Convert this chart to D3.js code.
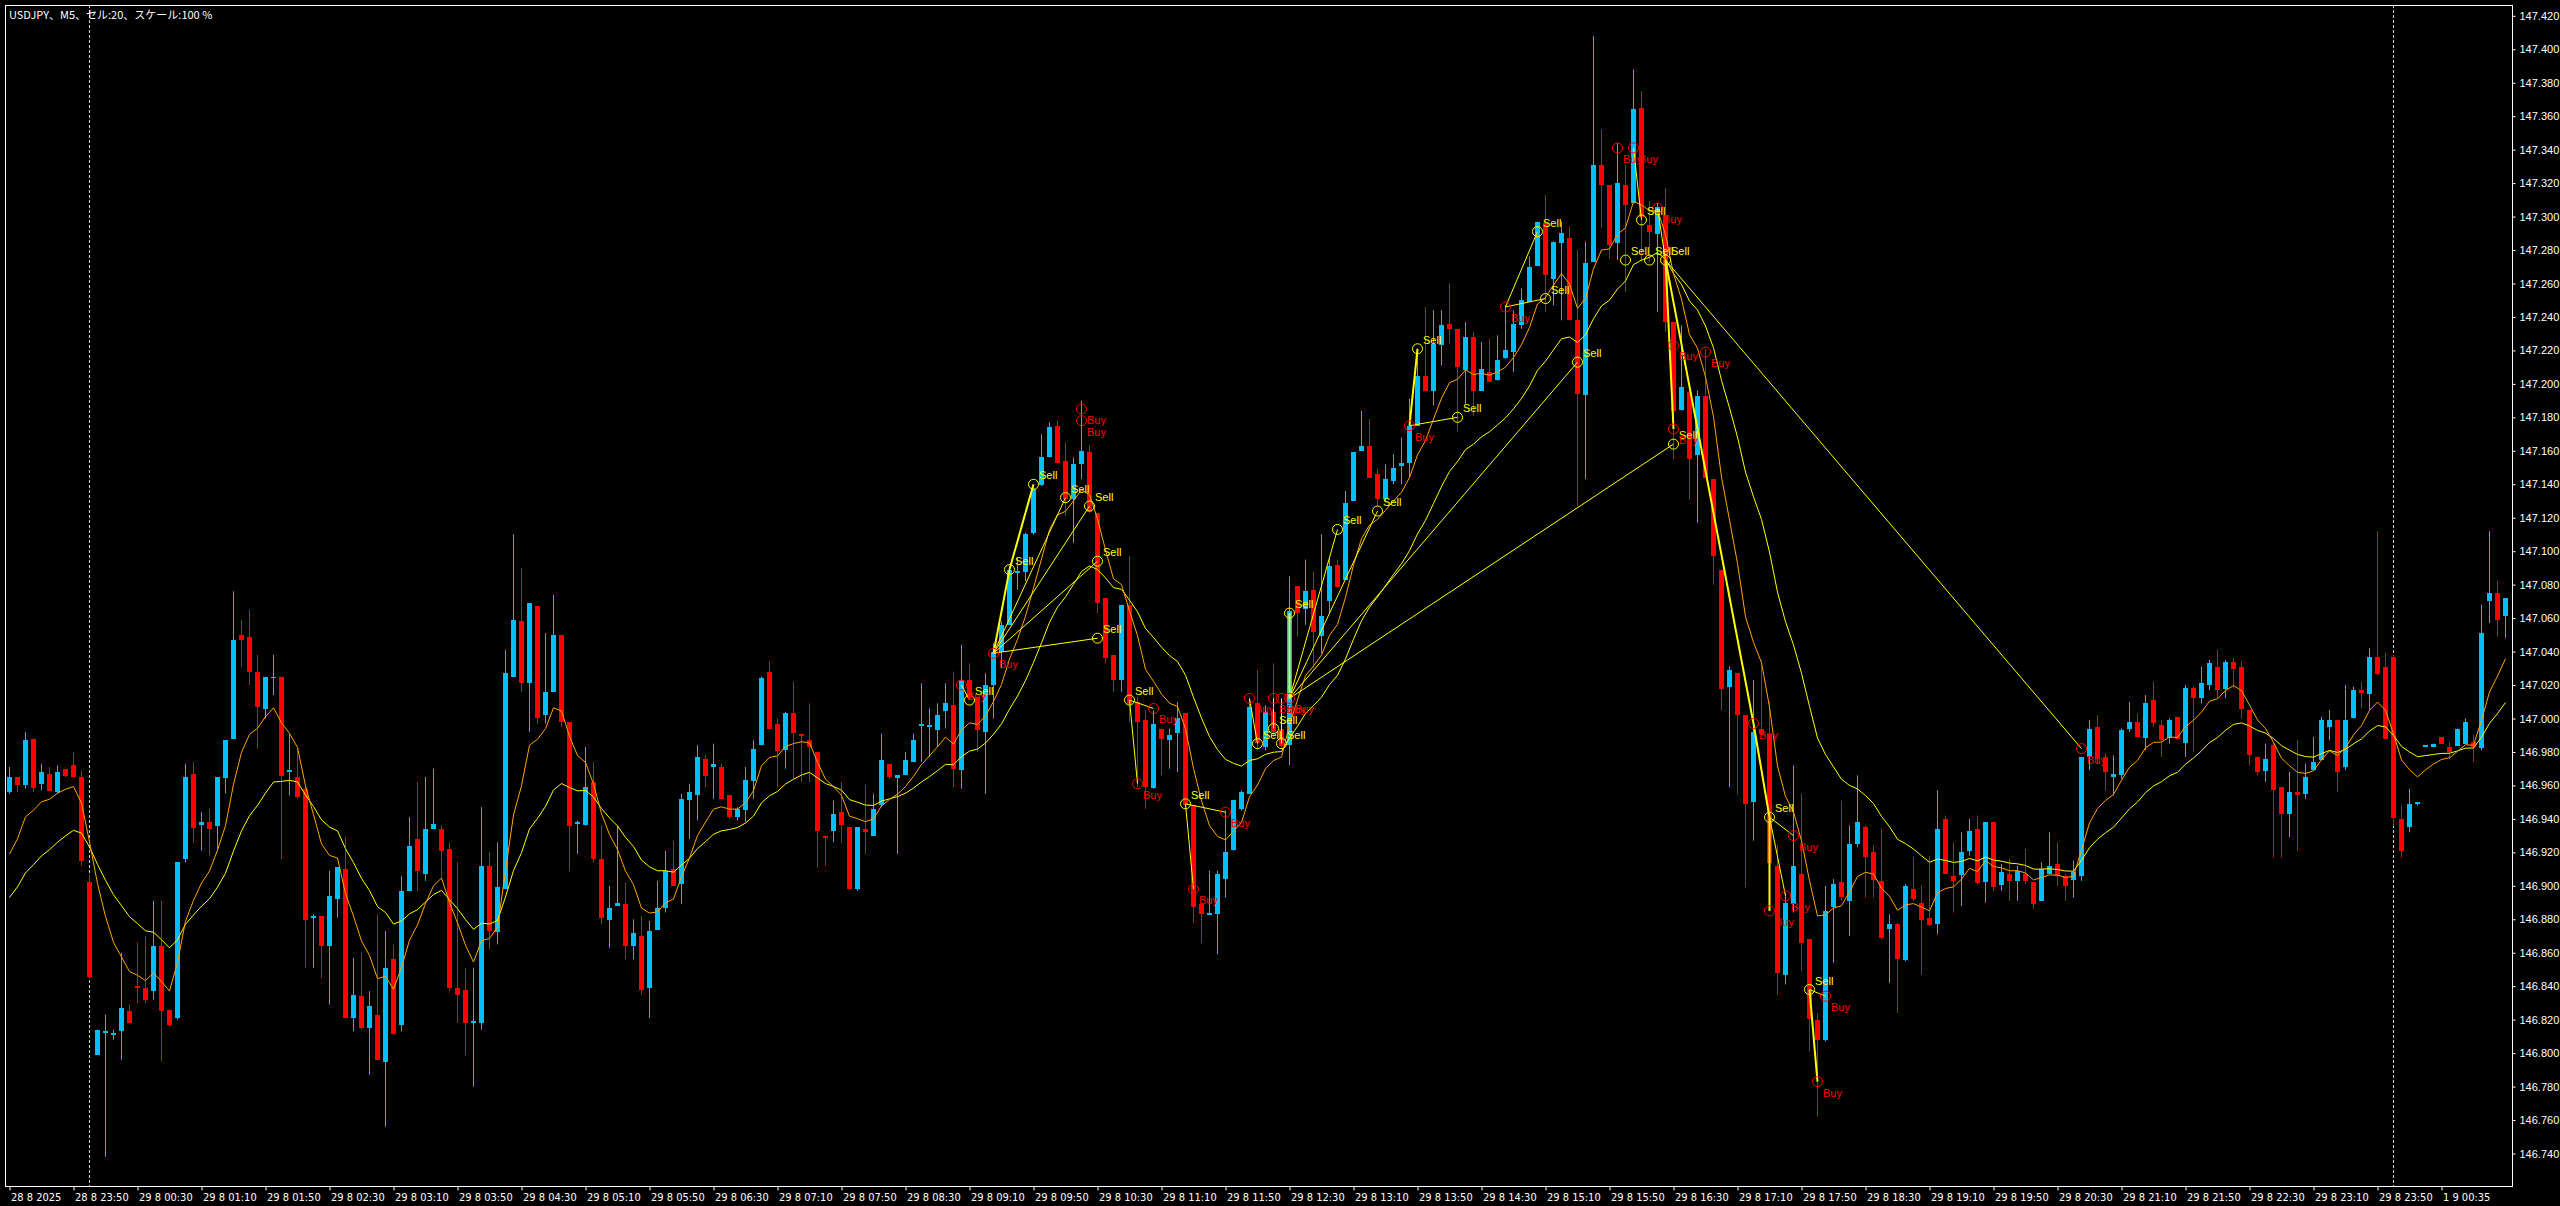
<!DOCTYPE html>
<html><head><meta charset="utf-8">
<script src="https://cdn.jsdelivr.net/npm/d3@7"></script>
<style>html,body{margin:0;padding:0;background:#000;overflow:hidden}</style>
</head><body>
<svg id="c" width="2560" height="1206"></svg>
<script>
// ---------- DATA ----------
const openP = [
146.956,146.965,146.960,146.988,146.961,146.967,146.956,146.970,146.972,146.965,
146.902,146.799,146.812,146.811,146.813,146.825,146.840,146.839,146.837,146.864,
146.826,146.821,146.916,146.967,146.936,146.938,146.936,146.964,146.988,147.050,
147.049,147.028,147.006,147.025,147.025,146.968,146.965,146.958,146.881,146.882,
146.864,146.892,146.910,146.821,146.834,146.815,146.823,146.795,146.856,146.817,
146.897,146.928,146.907,146.934,146.934,146.922,146.839,146.838,146.818,146.818,
146.912,146.872,146.898,147.025,147.058,147.021,147.067,147.002,147.016,147.050,
146.998,146.937,146.936,146.962,146.916,146.880,146.888,146.889,146.864,146.870,
146.839,146.874,146.887,146.910,146.901,146.951,146.954,146.976,146.971,146.971,
146.954,146.941,146.945,146.963,146.984,147.028,146.997,146.981,147.003,146.991,
146.987,146.980,146.930,146.933,146.944,146.935,146.898,146.934,146.930,146.948,
146.973,146.964,146.966,146.974,146.996,146.995,146.993,147.004,147.008,146.969,
147.023,147.013,146.992,147.020,147.040,147.056,147.087,147.087,147.111,147.139,
147.156,147.175,147.154,147.131,147.152,147.159,147.123,147.072,147.038,147.023,
147.068,147.010,146.999,146.959,146.994,146.987,146.991,147.003,146.948,146.889,
146.883,146.883,146.904,146.921,146.946,146.955,147.009,146.983,147.004,146.994,
146.984,147.079,147.065,147.077,147.049,147.070,147.092,147.083,147.130,147.160,
147.163,147.146,147.131,147.142,147.151,147.153,147.175,147.205,147.196,147.223,
147.236,147.233,147.208,147.228,147.196,147.207,147.202,147.215,147.219,147.235,
147.249,147.271,147.296,147.263,147.284,147.287,147.238,147.193,147.273,147.331,
147.319,147.284,147.319,147.308,147.365,147.295,147.290,147.301,147.237,147.184,
147.195,147.158,147.193,147.143,147.089,147.019,147.027,147.002,146.950,146.994,
146.991,146.912,146.847,146.889,146.907,146.868,146.820,146.808,146.887,146.902,
146.891,146.925,146.935,146.920,146.903,146.874,146.877,146.856,146.898,146.890,
146.881,146.877,146.940,146.906,146.906,146.921,146.934,146.902,146.938,146.900,
146.907,146.903,146.907,146.902,146.891,146.907,146.913,146.906,146.903,146.906,
146.977,146.995,146.977,146.965,146.966,146.994,146.998,146.988,147.011,146.996,
146.988,147.001,146.985,147.018,147.012,147.020,147.031,147.018,147.034,147.031,
147.005,146.977,146.969,146.984,146.959,146.943,146.956,146.955,146.969,146.975,
146.995,146.999,146.971,147.000,147.017,147.015,147.037,147.031,147.037,146.940,
146.935,146.949,146.983,146.983,146.989,146.983,146.984,146.985,146.986,146.982,
147.070,147.075,147.061];
const highP = [
146.971,146.965,146.992,146.988,146.973,146.971,146.972,146.970,146.980,146.969,
146.907,146.814,146.823,146.814,146.860,146.829,146.866,146.870,146.891,146.891,
146.826,146.914,146.973,146.974,146.944,146.946,146.965,146.987,147.076,147.059,
147.065,147.038,147.025,147.038,147.025,146.991,146.982,146.959,146.883,146.882,
146.909,146.911,146.929,146.857,146.860,146.837,146.883,146.873,146.865,146.906,
146.941,146.962,146.965,146.970,146.936,146.926,146.914,146.851,146.851,146.947,
146.920,146.926,147.041,147.110,147.090,147.069,147.067,147.051,147.074,147.050,
146.998,146.939,146.983,146.974,146.936,146.900,146.936,146.902,146.880,146.882,
146.879,146.903,146.921,146.927,146.955,146.961,146.984,146.978,146.985,146.973,
146.954,146.947,146.971,146.987,147.025,147.034,147.000,147.004,147.022,146.991,
147.009,146.980,146.930,146.951,146.962,146.935,146.935,146.960,146.955,146.991,
146.973,146.966,146.980,146.991,147.021,147.006,147.009,147.021,147.028,147.044,
147.033,147.013,147.027,147.045,147.058,147.091,147.096,147.111,147.139,147.170,
147.177,147.178,147.165,147.156,147.190,147.163,147.123,147.072,147.038,147.068,
147.097,147.013,147.005,147.005,146.994,146.994,147.010,147.003,146.948,146.889,
146.909,146.909,146.945,146.951,146.957,147.012,147.029,147.008,147.033,146.994,
147.085,147.079,147.095,147.088,147.110,147.096,147.095,147.136,147.159,147.184,
147.179,147.149,147.152,147.158,147.168,147.191,147.220,147.246,147.244,147.244,
147.260,147.233,147.237,147.231,147.225,147.227,147.229,147.247,147.244,147.257,
147.276,147.297,147.313,147.285,147.297,147.294,147.280,147.285,147.408,147.352,
147.319,147.344,147.331,147.388,147.375,147.309,147.308,147.317,147.237,147.235,
147.195,147.196,147.221,147.143,147.089,147.031,147.027,147.002,147.023,147.035,
147.010,146.924,146.896,146.972,146.955,146.868,146.824,146.900,146.904,146.951,
146.936,146.966,146.936,146.924,146.934,146.883,146.878,146.901,146.917,146.900,
146.918,146.957,146.942,146.926,146.932,146.940,146.942,146.938,146.938,146.913,
146.916,146.912,146.922,146.902,146.914,146.932,146.926,146.907,146.915,146.977,
146.999,147.002,146.979,146.978,146.994,147.010,147.003,147.014,147.022,146.999,
147.000,147.001,147.020,147.019,147.031,147.035,147.041,147.035,147.036,147.034,
147.005,146.977,146.985,146.986,146.959,146.968,146.987,146.973,146.989,147.001,
147.005,146.999,147.020,147.019,147.022,147.042,147.112,147.039,147.038,146.948,
146.958,146.950,146.984,146.985,146.989,146.986,146.994,147.000,146.990,147.068,
147.112,147.082,147.072];
const lowP = [
146.955,146.956,146.958,146.956,146.957,146.957,146.955,146.965,146.965,146.912,
146.845,146.799,146.738,146.808,146.796,146.818,146.830,146.830,146.832,146.795,
146.816,146.820,146.914,146.926,146.921,146.918,146.922,146.955,146.988,147.031,
147.020,146.982,147.000,147.014,146.916,146.954,146.952,146.851,146.851,146.845,
146.829,146.881,146.821,146.813,146.814,146.787,146.796,146.756,146.811,146.813,
146.897,146.897,146.903,146.934,146.905,146.837,146.818,146.799,146.780,146.814,
146.862,146.865,146.898,147.025,147.016,146.992,146.997,146.997,147.016,146.995,
146.909,146.919,146.936,146.914,146.877,146.863,146.888,146.856,146.856,146.835,
146.821,146.874,146.884,146.900,146.889,146.928,146.939,146.959,146.952,146.952,
146.940,146.939,146.938,146.952,146.984,146.994,146.959,146.970,146.964,146.962,
146.962,146.911,146.912,146.926,146.926,146.898,146.897,146.919,146.930,146.947,
146.964,146.919,146.966,146.974,146.974,146.977,146.983,146.994,146.959,146.958,
147.011,146.980,146.955,147.000,147.030,147.056,147.077,147.082,147.110,147.139,
147.156,147.153,147.121,147.105,147.143,147.123,147.063,147.033,147.016,147.016,
146.998,146.959,146.946,146.958,146.966,146.970,146.968,146.947,146.878,146.866,
146.883,146.859,146.893,146.921,146.945,146.955,146.981,146.981,146.989,146.982,
146.972,147.049,147.056,147.030,147.039,147.063,147.079,147.083,147.130,147.160,
147.144,147.127,147.130,147.140,147.140,147.144,147.175,147.196,147.187,147.211,
147.224,147.172,147.188,147.181,147.196,147.201,147.202,147.215,147.207,147.233,
147.249,147.271,147.243,147.247,147.238,147.238,147.127,147.143,147.273,147.293,
147.275,147.274,147.255,147.308,147.273,147.273,147.243,147.231,147.155,147.184,
147.131,147.117,147.144,147.080,147.005,146.959,146.955,146.899,146.927,146.991,
146.914,146.835,146.841,146.884,146.849,146.801,146.762,146.807,146.854,146.891,
146.870,146.923,146.893,146.893,146.868,146.842,146.824,146.855,146.891,146.847,
146.876,146.871,146.907,146.884,146.888,146.918,146.901,146.890,146.897,146.897,
146.891,146.891,146.901,146.886,146.891,146.907,146.900,146.891,146.893,146.903,
146.969,146.973,146.957,146.954,146.964,146.992,146.989,146.981,146.995,146.977,
146.985,146.988,146.977,146.980,147.009,147.017,147.012,147.012,147.018,147.000,
146.972,146.966,146.962,146.917,146.917,146.929,146.921,146.952,146.969,146.975,
146.987,146.956,146.969,147.000,147.006,147.005,147.026,146.988,146.936,146.917,
146.932,146.948,146.983,146.983,146.985,146.976,146.984,146.985,146.974,146.981,
147.057,147.049,147.048];
const closeP = [
146.965,146.960,146.987,146.959,146.968,146.957,146.968,146.966,146.965,146.915,
146.845,146.814,146.813,146.812,146.827,146.818,146.839,146.832,146.864,146.825,
146.817,146.914,146.965,146.935,146.938,146.934,146.965,146.987,147.047,147.047,
147.028,147.007,147.025,147.025,146.966,146.969,146.953,146.880,146.882,146.864,
146.894,146.911,146.821,146.835,146.815,146.828,146.796,146.851,146.811,146.897,
146.924,146.909,146.934,146.937,146.921,146.839,146.835,146.818,146.819,146.912,
146.873,146.899,147.027,147.059,147.021,147.069,147.000,147.016,147.050,146.998,
146.936,146.938,146.959,146.916,146.881,146.887,146.890,146.864,146.872,146.838,
146.873,146.887,146.909,146.900,146.952,146.956,146.977,146.966,146.973,146.952,
146.941,146.946,146.963,146.982,147.024,146.994,146.981,147.003,146.991,146.990,
146.983,146.933,146.929,146.943,146.936,146.898,146.935,146.932,146.946,146.975,
146.965,146.966,146.975,146.987,146.997,146.996,147.002,147.009,146.970,147.023,
147.012,146.993,147.020,147.040,147.056,147.089,147.088,147.110,147.137,147.156,
147.174,147.153,147.131,147.152,147.160,147.123,147.069,147.036,147.023,147.068,
147.009,146.998,146.959,146.997,146.988,146.990,147.000,146.948,146.887,146.883,
146.884,146.907,146.920,146.951,146.956,147.007,146.985,147.004,146.992,146.984,
147.064,147.063,147.076,147.052,147.061,147.091,147.079,147.129,147.159,147.163,
147.144,147.131,147.143,147.150,147.153,147.175,147.205,147.196,147.224,147.235,
147.233,147.210,147.228,147.196,147.209,147.201,147.214,147.220,147.236,147.250,
147.270,147.297,147.265,147.285,147.290,147.238,147.194,147.272,147.331,147.319,
147.283,147.320,147.307,147.364,147.300,147.291,147.306,147.237,147.184,147.198,
147.155,147.193,147.144,147.097,147.018,147.029,147.002,146.949,146.992,146.991,
146.914,146.848,146.890,146.912,146.866,146.820,146.808,146.885,146.901,146.893,
146.925,146.938,146.917,146.903,146.869,146.877,146.856,146.900,146.892,146.880,
146.877,146.934,146.907,146.903,146.920,146.933,146.902,146.938,146.899,146.908,
146.903,146.909,146.903,146.889,146.910,146.912,146.906,146.900,146.908,146.977,
146.994,146.976,146.968,146.967,146.993,146.998,146.989,147.009,146.997,146.987,
146.999,146.988,147.018,147.012,147.021,147.033,147.017,147.034,147.030,147.006,
146.978,146.968,146.976,146.957,146.943,146.956,146.954,146.965,146.974,146.999,
146.999,146.968,146.999,147.017,147.015,147.037,147.027,146.988,146.941,146.921,
146.949,146.950,146.984,146.985,146.985,146.980,146.994,146.998,146.983,147.051,
147.075,147.059,147.072];

// moving averages (EMA 8 orange, EMA 20 yellow); first values
const maFastPeriod = 8, maSlowPeriod = 20;
const maFastStart = 146.919, maSlowStart = 146.893;

// period separators (first bar of a new day)
const separatorBars = [10, 298];

// time axis
const timeTickBars = [0,8,16,24,32,40,48,56,64,72,80,88,96,104,112,120,128,136,144,152,160,168,176,184,192,200,208,216,224,232,240,248,256,264,272,280,288,296,304];
const timeTickLabels = ["28 8 2025","28 8 23:50","29 8 00:30","29 8 01:10","29 8 01:50","29 8 02:30","29 8 03:10","29 8 03:50","29 8 04:30","29 8 05:10","29 8 05:50","29 8 06:30","29 8 07:10","29 8 07:50","29 8 08:30","29 8 09:10","29 8 09:50","29 8 10:30","29 8 11:10","29 8 11:50","29 8 12:30","29 8 13:10","29 8 13:50","29 8 14:30","29 8 15:10","29 8 15:50","29 8 16:30","29 8 17:10","29 8 17:50","29 8 18:30","29 8 19:10","29 8 19:50","29 8 20:30","29 8 21:10","29 8 21:50","29 8 22:30","29 8 23:10","29 8 23:50","1 9 00:35"];

// price axis
const priceTicks = [146.740,146.760,146.780,146.800,146.820,146.840,146.860,146.880,146.900,146.920,146.940,146.960,146.980,147.000,147.020,147.040,147.060,147.080,147.100,147.120,147.140,147.160,147.180,147.200,147.220,147.240,147.260,147.280,147.300,147.320,147.340,147.360,147.380,147.400,147.420];
const priceTickLabels = ["146.740","146.760","146.780","146.800","146.820","146.840","146.860","146.880","146.900","146.920","146.940","146.960","146.980","147.000","147.020","147.040","147.060","147.080","147.100","147.120","147.140","147.160","147.180","147.200","147.220","147.240","147.260","147.280","147.300","147.320","147.340","147.360","147.380","147.400","147.420"];

// signal markers [bar, price]
const sellSignals = [[120,147.011],[125,147.089],[128,147.140],[132,147.132],[135,147.127],[136,147.094],[136,147.048],[140,147.011],[147,146.949],[156,146.985],[158,146.994],[159,146.985],[160,147.063],[166,147.113],[171,147.124],[176,147.221],[181,147.180],[191,147.291],[192,147.251],[196,147.213],[202,147.274],[204,147.298],[205,147.274],[207,147.274],[208,147.164],[220,146.941],[225,146.838]];
const buySignals = [[119,147.020],[123,147.039],[134,147.185],[134,147.178],[141,146.961],[143,147.006],[148,146.898],[152,146.944],[155,147.012],[158,147.012],[159,147.012],[160,147.012],[175,147.175],[187,147.246],[201,147.341],[203,147.341],[206,147.305],[208,147.223],[208,147.173],[212,147.219],[218,146.997],[220,146.885],[222,146.894],[223,146.930],[226,146.783],[227,146.834],[259,146.982]];
// signal link lines [bar1, price1, bar2, price2, bold]
const signalLinks = [
[119,147.020,120,147.011,0],
[123,147.039,125,147.089,1],[125,147.089,128,147.140,1],[123,147.039,132,147.132,0],[123,147.039,135,147.127,0],[123,147.039,136,147.094,0],[123,147.039,136,147.048,0],
[140,147.011,141,146.961,0],[140,147.011,143,147.006,0],
[147,146.949,148,146.898,0],[147,146.949,152,146.944,0],
[155,147.012,156,146.985,0],[158,147.012,158,146.994,0],[159,147.012,159,146.985,0],
[160,147.012,160,147.063,1],[160,147.012,166,147.113,0],[160,147.012,171,147.124,0],[160,147.012,196,147.213,0],[160,147.012,208,147.164,0],
[175,147.175,176,147.221,1],[175,147.175,181,147.180,0],
[187,147.246,191,147.291,0],[187,147.246,192,147.251,0],
[203,147.341,204,147.298,0],[206,147.305,207,147.274,0],
[207,147.274,208,147.173,1],[207,147.274,218,146.997,1],[207,147.274,259,146.982,0],
[218,146.997,220,146.941,1],[220,146.941,220,146.885,1],[220,146.941,222,146.894,0],[220,146.941,223,146.930,0],
[225,146.838,226,146.783,1],[225,146.838,227,146.834,0]];

const titleText = "USDJPY、M5、セル:20、スケール:100 %";

// ---------- DRAW ----------
const W = 2560, H = 1206;
const plotL = 5, plotR = 2512, plotT = 5, plotB = 1186;
const svg = d3.select("#c");
svg.append("rect").attr("width", W).attr("height", H).attr("fill", "#000");

const n = closeP.length;
const x = d3.scaleLinear().domain([0, 1]).range([9, 17]);
const y = d3.scaleLinear().domain([146.740, 147.420]).range([1153.5, 15.8]);
const UP = "#00BFFF", DN = "#FF0000";

const g = svg.append("g");

// separators
g.selectAll("line.sep").data(separatorBars).join("line")
  .attr("x1", d => Math.round(x(d)) + 0.5).attr("x2", d => Math.round(x(d)) + 0.5)
  .attr("y1", plotT).attr("y2", plotB)
  .attr("stroke", "#d0d0d0").attr("stroke-width", 1).attr("stroke-dasharray", "3,2");

// candles
const idx = d3.range(n);
const colorOf = i => closeP[i] >= openP[i] ? UP : DN;
g.selectAll("line.wick").data(idx).join("line")
  .attr("x1", i => x(i) + 0.5).attr("x2", i => x(i) + 0.5)
  .attr("y1", i => y(highP[i])).attr("y2", i => y(lowP[i]))
  .attr("stroke", colorOf).attr("stroke-width", 1);
g.selectAll("rect.body").data(idx).join("rect")
  .attr("x", i => x(i) - 2).attr("width", 5)
  .attr("y", i => Math.round(y(Math.max(openP[i], closeP[i]))))
  .attr("height", i => Math.max(1, Math.round(Math.abs(y(openP[i]) - y(closeP[i])))))
  .attr("fill", colorOf);

// EMAs
function ema(period, start) {
  const a = 2 / (period + 1); const out = [start];
  for (let i = 1; i < n; i++) out.push(out[i - 1] + a * (closeP[i] - out[i - 1]));
  return out;
}
const maFast = ema(maFastPeriod, maFastStart);
const maSlow = ema(maSlowPeriod, maSlowStart);
const lineGen = d3.line().x((d, i) => x(i) + 0.5).y(d => y(d));
g.append("path").attr("d", lineGen(maSlow)).attr("fill", "none").attr("stroke", "#FFFF00").attr("stroke-width", 1);
g.append("path").attr("d", lineGen(maFast)).attr("fill", "none").attr("stroke", "#FFA500").attr("stroke-width", 1);

// signal links
g.selectAll("line.link").data(signalLinks).join("line")
  .attr("x1", d => x(d[0]) + 0.5).attr("y1", d => y(d[1]))
  .attr("x2", d => x(d[2]) + 0.5).attr("y2", d => y(d[3]))
  .attr("stroke", "#FFFF00").attr("stroke-width", d => d[4] ? 2 : 1);

// signal circles + labels
const lblFont = "'Liberation Sans', Arial, sans-serif";
g.selectAll("circle.sell").data(sellSignals).join("circle")
  .attr("cx", d => x(d[0]) + 0.5).attr("cy", d => y(d[1])).attr("r", 5)
  .attr("fill", "none").attr("stroke", "#FFFF00").attr("stroke-width", 1);
g.selectAll("circle.buy").data(buySignals).join("circle")
  .attr("cx", d => x(d[0]) + 0.5).attr("cy", d => y(d[1])).attr("r", 5)
  .attr("fill", "none").attr("stroke", "#FF0000").attr("stroke-width", 1);
g.selectAll("text.sell").data(sellSignals).join("text")
  .attr("x", d => x(d[0]) + 6).attr("y", d => y(d[1]) - 5)
  .attr("fill", "#FFFF00").attr("font-family", lblFont).attr("font-size", 11)
  .text("Sell");
g.selectAll("text.buy").data(buySignals).join("text")
  .attr("x", d => x(d[0]) + 6).attr("y", d => y(d[1]) + 15)
  .attr("fill", "#FF0000").attr("font-family", lblFont).attr("font-size", 11)
  .text("Buy");

// border
svg.append("rect").attr("x", plotL + 0.5).attr("y", plotT + 0.5)
  .attr("width", plotR - plotL).attr("height", plotB - plotT)
  .attr("fill", "none").attr("stroke", "#fff").attr("stroke-width", 1);

// price axis
const yAxis = d3.axisRight(y).tickValues(priceTicks)
  .tickFormat((d, i) => priceTickLabels[i]).tickSize(3).tickPadding(4);
const ya = svg.append("g").attr("transform", `translate(${plotR + 0.5},0)`).call(yAxis);
ya.select(".domain").remove();
ya.selectAll("line").attr("stroke", "#fff");
ya.selectAll("text").attr("fill", "#fff").attr("font-family", lblFont).attr("font-size", 11);

// time axis
const xAxis = d3.axisBottom(x).tickValues(timeTickBars)
  .tickFormat((d, i) => timeTickLabels[i]).tickSize(4).tickPadding(3);
const xa = svg.append("g").attr("transform", `translate(0.5,${plotB + 0.5})`).call(xAxis);
xa.select(".domain").remove();
xa.selectAll("line").attr("stroke", "#fff");
xa.selectAll("text").attr("fill", "#fff").attr("text-anchor", "start").attr("dx", 1)
  .attr("font-family", "'Liberation Sans Narrow', 'DejaVu Sans Condensed', sans-serif").attr("font-size", 11);

// title
svg.append("text").attr("x", 9).attr("y", 19).attr("fill", "#fff")
  .attr("font-family", "'Noto Sans CJK JP', sans-serif").attr("font-size", 11)
  .text(titleText);
</script>
</body></html>
